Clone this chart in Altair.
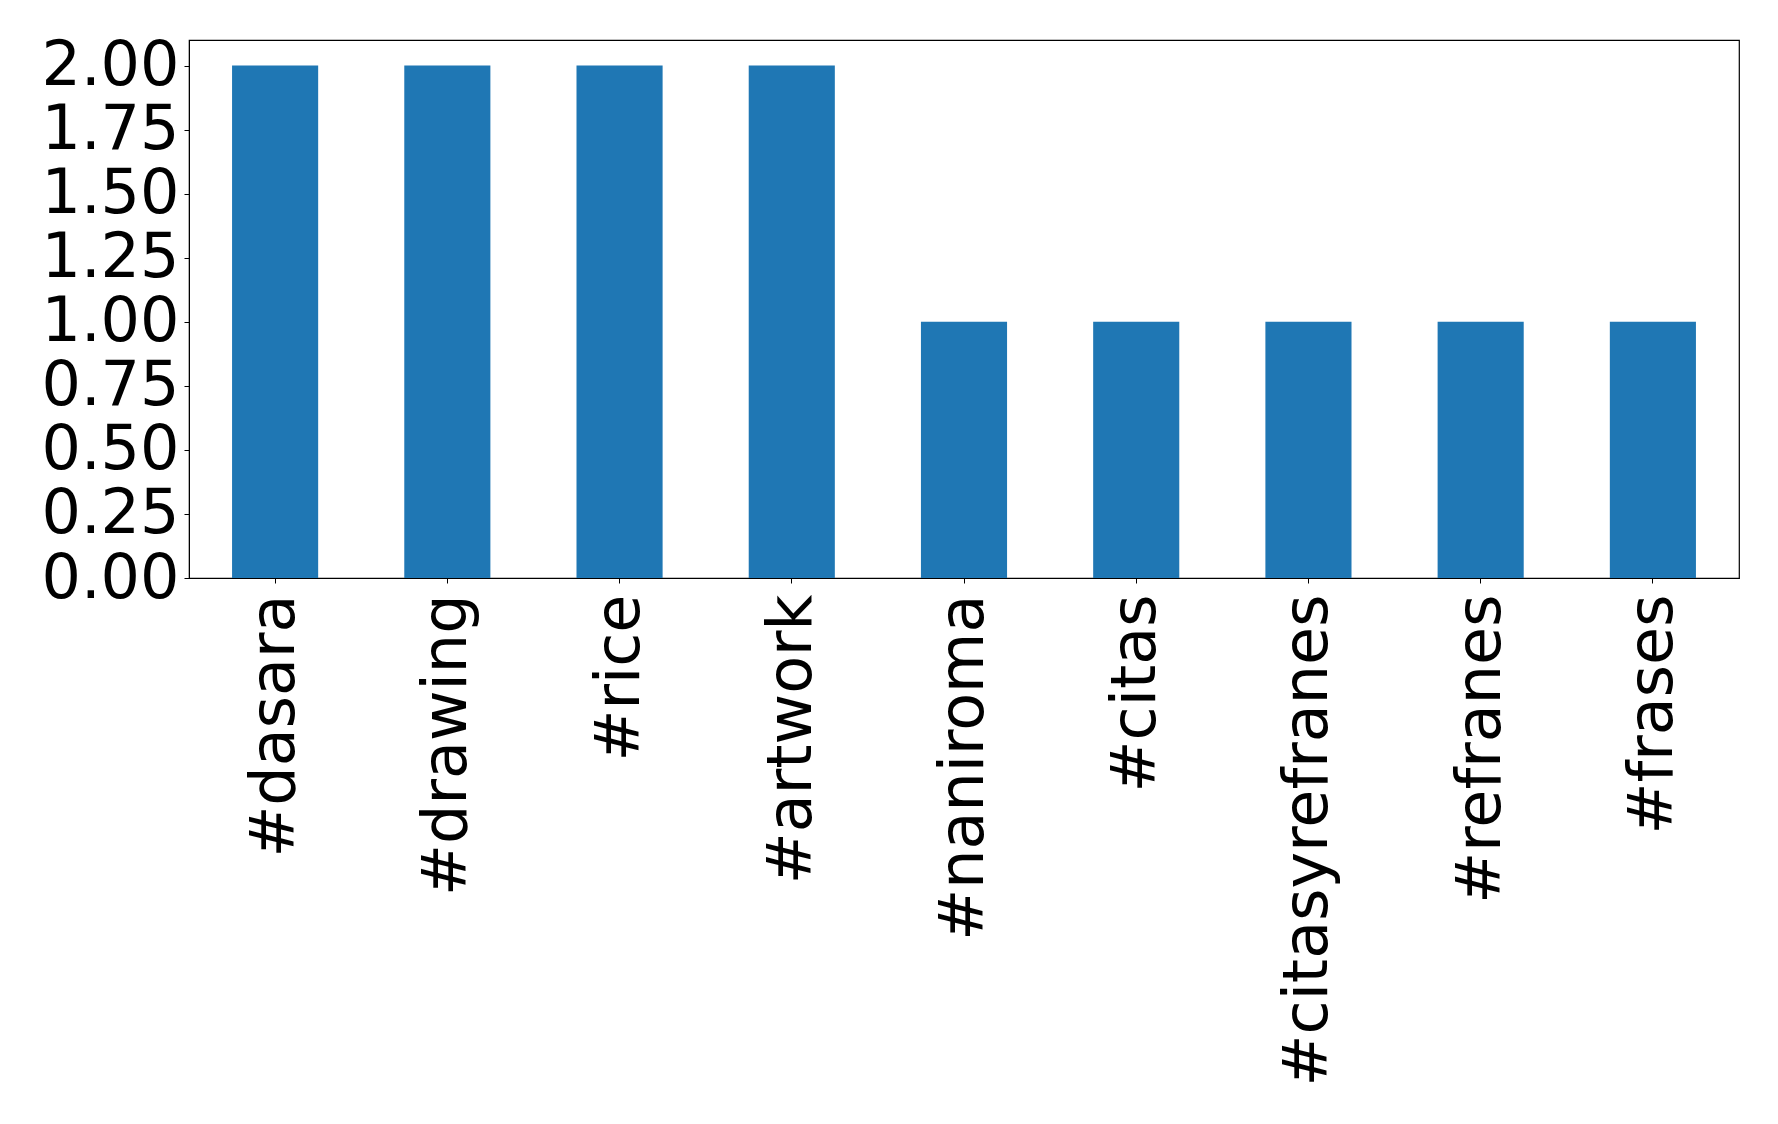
import altair as alt
import pandas as pd

tags = ["#dasara", "#drawing", "#rice", "#artwork", "#naniroma", "#citas",
        "#citasyrefranes", "#refranes", "#frases"]
counts = [2, 2, 2, 2, 1, 1, 1, 1, 1]
y_ticks = [0, 0.25, 0.5, 0.75, 1.0, 1.25, 1.5, 1.75, 2.0]

df = pd.DataFrame({"tag": tags, "count": counts})

chart = alt.Chart(df).mark_bar(color="#1f77b4").encode(
    x=alt.X("tag:N", sort=tags, title=None,
            scale=alt.Scale(paddingInner=0.5, paddingOuter=0.25),
            axis=alt.Axis(labelAngle=-90, labelFont="DejaVu Sans", labelFontSize=62,
                          labelColor="black", tickColor="black", domainColor="black",
                          tickSize=5, labelPadding=11, labelLimit=0, grid=False)),
    y=alt.Y("count:Q", title=None,
            scale=alt.Scale(domain=[0, 2.1], nice=False, zero=True),
            axis=alt.Axis(values=y_ticks, format=".2f", labelFont="DejaVu Sans",
                          labelFontSize=62, labelColor="black", tickColor="black",
                          domainColor="black", tickSize=5, labelPadding=5, grid=False,
                          labelBaseline="middle")),
).properties(
    width=1550, height=538,
    autosize=alt.AutoSizeParams(type="none"),
    padding={"left": 181, "top": 32, "right": 30, "bottom": 540},
    background="white",
).configure_view(stroke="black", strokeWidth=1.2)

chart.save("out.html", embed_options={"renderer": "svg", "actions": False})
